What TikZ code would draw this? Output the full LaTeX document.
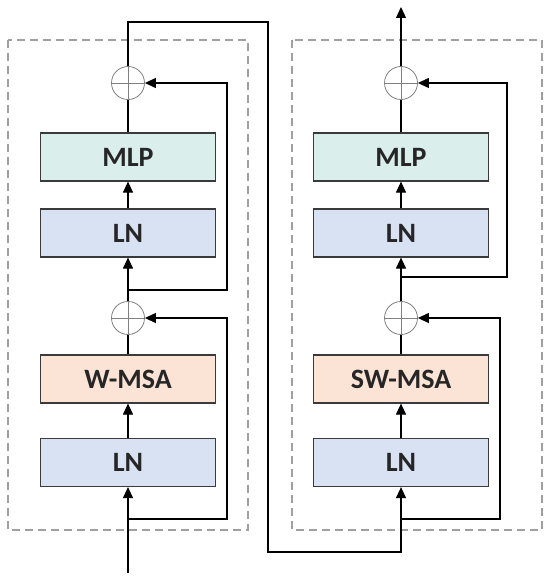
\documentclass[tikz,border=0pt]{standalone}
\usepackage{fontspec}
\setmainfont{Carlito}
\usetikzlibrary{arrows.meta}
\definecolor{mlpfill}{HTML}{DAEEEC}
\definecolor{lnfill}{HTML}{D9E2F3}
\definecolor{msafill}{HTML}{FBE4D5}
\definecolor{boxline}{HTML}{3A3A3A}
\definecolor{dashgray}{HTML}{A0A0A0}
\begin{document}
\begin{tikzpicture}[x=1pt, y=-1pt, >={Triangle[length=11pt,width=10pt]}, line width=1.2pt]
        \tikzset{
            block/.style={draw=boxline, line width=1.2pt, minimum width=175pt, minimum height=48pt,
                font=\bfseries\fontsize{28}{32}\selectfont, text=black!85},
            addop/.style={draw=gray, line width=0.8pt, circle, minimum size=33pt, inner sep=0pt,
                path picture={\draw[gray, line width=0.8pt] (path picture bounding box.north) -- (path picture bounding box.south)
                    (path picture bounding box.west) -- (path picture bounding box.east);}},
            frame/.style={draw=dashgray, line width=1.2pt, dash pattern=on 8pt off 5pt}
        }
        \useasboundingbox (0,0) rectangle (550,583);
        % Dashed frames of the two blocks
        \draw[frame] (8,40) rectangle (248,530);
        \draw[frame] (292,40) rectangle (542,530);
        % Left block (W-MSA)
        \node[block, fill=lnfill] (lnA1) at (128,462.5) {LN};
        \node[block, fill=msafill] (wmsa) at (128,379) {W-MSA};
        \node[addop] (addA1) at (128,318) {};
        \node[block, fill=lnfill] (lnA2) at (128,233) {LN};
        \node[block, fill=mlpfill] (mlpA) at (128,157) {MLP};
        \node[addop] (addA2) at (128,83) {};
        % Right block (SW-MSA)
        \node[block, fill=lnfill] (lnB1) at (401,462.5) {LN};
        \node[block, fill=msafill] (swmsa) at (401,379) {SW-MSA};
        \node[addop] (addB1) at (401,318) {};
        \node[block, fill=lnfill] (lnB2) at (401,233) {LN};
        \node[block, fill=mlpfill] (mlpB) at (401,157) {MLP};
        \node[addop] (addB2) at (401,83) {};
        % Free ends and branch points
        \coordinate (inA) at (128,573);
        \coordinate (brA1) at (128,519);
        \coordinate (brA2) at (128,290);
        \coordinate (turnA) at (268,22);
        \coordinate (turnB) at (268,552);
        \coordinate (brB1) at (401,519);
        \coordinate (brB2) at (401,277);
        \coordinate (outB) at (401,7);
        % Main path, left
        \draw[->] (inA) -- (lnA1);
        \draw[->] (lnA1) -- (wmsa);
        \draw (wmsa) -- (addA1);
        \draw[->] (addA1) -- (lnA2);
        \draw[->] (lnA2) -- (mlpA);
        \draw (mlpA) -- (addA2);
        % Residual connections, left
        \draw[->] (brA1) -- ++(99,0) |- (addA1);
        \draw[->] (brA2) -- ++(99,0) |- (addA2);
        % Link between the blocks
        \draw[->] (addA2) |- (turnA) -- (turnB) -| (lnB1);
        % Main path, right
        \draw[->] (lnB1) -- (swmsa);
        \draw (swmsa) -- (addB1);
        \draw[->] (addB1) -- (lnB2);
        \draw[->] (lnB2) -- (mlpB);
        \draw (mlpB) -- (addB2);
        \draw[->] (addB2) -- (outB);
        % Residual connections, right
        \draw[->] (brB1) -- ++(99,0) |- (addB1);
        \draw[->] (brB2) -- ++(106,0) |- (addB2);
    \end{tikzpicture}
\end{document}
